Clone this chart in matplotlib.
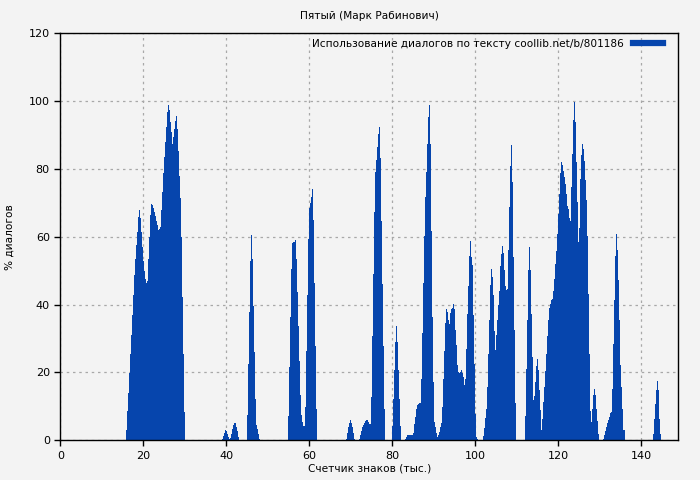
import numpy as np
import matplotlib
matplotlib.use("Agg")
import matplotlib.pyplot as plt
from matplotlib.lines import Line2D

# one bar per ~240 characters, heights in % of dialogue
STEP = 0.241

starts = [15.83, 38.96, 44.92, 54.87, 68.84, 72.0, 80.0, 83.06, 101.86, 111.98, 130.8, 142.8]

peak_20 = [3, 8.5, 14, 19.8, 25.3, 31, 36.9, 42.7, 48.6, 53.6, 57.7, 61.4, 65.7, 67.8, 65.4,
           61.4, 57, 53, 49.8, 47.7, 46.4, 47, 53.4, 60, 66.3, 69.8, 69.3, 68.5, 67.3, 66,
           64.6, 63.4, 62, 62.2, 62.8, 67.8, 73.2, 78.7, 83.5, 88, 92.4, 96.8, 99, 97.3, 93.8,
           90.9, 87.5, 89.4, 91.9, 94.1, 95.5, 91.9, 85.2, 78, 71.3, 60, 42.4, 25.3, 8.3]
peak_40 = [0.4, 1.3, 2.3, 3.0, 2.8, 2.0, 1.0, 0.3, 0.6, 2.0, 3.3, 4.4, 5.2, 5.0, 4.0, 2.6, 1.0]
peak_46 = [7.4, 22.4, 37.9, 52.9, 60.4, 53.4, 39.5, 26, 12.1, 4.4, 3.2, 1.8, 0.5]
peak_58 = [7.1, 21.6, 36.4, 50.6, 58.2, 58.5, 58.6, 59.0, 53.6, 43.8, 33.6, 23.4, 13.3, 7.4,
           5.4, 4.1, 4.1, 9.8, 26.2, 42.7, 59.3, 68.5, 70.1, 71.7, 74.2, 64.9, 46.3, 27.7, 9.1]
peak_70 = [0.5, 2.2, 3.9, 5.2, 6.1, 5.2, 3.9, 2.2, 0.5]
peak_76 = [0.5, 1.5, 2.8, 3.8, 4.4, 5.1, 5.6, 6.1, 6.1, 5.4, 4.9, 4.7, 12.9, 30.9, 49.1, 67.3,
           79.1, 82.5, 86.4, 90.4, 92.5, 83.1, 64.6, 46.2, 27.7, 9.1]
peak_81 = [4.1, 12.3, 20.8, 29.0, 33.6, 29.0, 20.8, 12.3, 4.1]
peak_89 = [0.5, 1.0, 1.5, 1.5, 1.5, 1.5, 1.5, 1.5, 2.2, 4.7, 6.9, 9.2, 10.5, 10.7, 10.9, 11.1,
           18.0, 31.7, 46.4, 60.2, 71.6, 79.1, 87.5, 95.2, 99.0, 87.3, 61.8, 36.4, 17.2, 5.4,
           3.8, 2.2, 0.9,
           1.5, 2.5, 3.8, 5.1, 9.8, 18.0, 26.3, 34.6, 38.8, 37.9, 35.6, 34.4, 37.4, 38.8, 39.1,
           40.3, 38.8, 32.4, 28.0, 22.1, 20.1, 19.8, 20.1, 20.6, 19.7, 18.7, 16.3, 18.2, 27.0,
           37.2, 45.4, 54.4, 58.8, 54.1, 51.6, 36.9, 22.6, 7.7, 0.9, 0.5]
peak_105 = [1.2, 3.7, 6.7, 9.3, 15.7, 25.5, 35.6, 45.7, 50.6, 48.2, 42.7, 32.2, 26.7, 31.0,
            35.4, 39.8, 43.9, 51.3, 55.0, 57.2, 55.2, 50.1, 45.4, 44.2, 44.7, 56.2, 68.8,
            80.8, 87.0, 76.2, 54.0, 32.6, 11.0]
peak_122 = [7.1, 21.1, 35.4, 50.1, 57.0, 50.3, 37.3, 24.6, 11.8, 13.0, 17.2, 21.8, 24.1, 20.8,
            14.9, 8.8, 2.9,
            6.4, 11.3, 15.7, 20.3, 25.3, 30.7, 35.6, 39.1, 40.3, 41.3, 41.8, 44.0, 47.7, 52.1,
            55.8, 60.7, 66.6, 72.7, 78.8, 82.0, 81.1, 79.4, 77.6, 75.7, 72.7, 69.0, 68.3, 65.4,
            64.7, 74.7, 84.5, 94.5, 99.7, 93.8, 82.0, 70.3, 58.5, 62.7, 76.9, 84.0, 87.5, 86.0,
            82.3, 76.7, 71.0, 60.1, 43.0,
            25.5, 8.7, 5.4, 9.3, 13.3, 15.2, 13.3, 9.3, 5.6, 1.8]
peak_134 = [0.5, 1.5, 2.8, 3.9, 5.1, 6.1, 6.9, 8.1, 8.4, 15.2, 28.3, 41.3, 54.2, 60.9, 56.2,
            47.4, 35.6, 22.1, 15.7, 9.3, 2.9, 2.9]
peak_144 = [2.0, 6.4, 10.6, 14.9, 17.4, 14.9, 6.4, 2.0]

peaks = [peak_20, peak_40, peak_46, peak_58, peak_70, peak_76, peak_81, peak_89,
         peak_105, peak_122, peak_134, peak_144]

TITLE = "Пятый (Марк Рабинович)"
LEGEND = "Использование диалогов по тексту coollib.net/b/801186"
XLABEL = "Счетчик знаков (тыс.)"
YLABEL = "% диалогов"
BG = "#f3f3f3"
BLUE = "#0645ad"
FS = 7.6

fig = plt.figure(figsize=(7, 4.8), dpi=100, facecolor=BG)
ax = fig.add_axes([0.0861, 0.0827, 0.8825, 0.8479], facecolor=BG)

for x0, vals in zip(starts, peaks):
    edges = x0 + STEP * np.arange(len(vals) + 1)
    ax.stairs(vals, edges, fill=True, color=BLUE, linewidth=0, antialiased=False, zorder=2)

ax.set_xlim(0, 148.8)
ax.set_ylim(0, 120)
ax.set_xticks(np.arange(0, 141, 20))
ax.set_yticks(np.arange(0, 121, 20))
ax.tick_params(direction="out", length=4, width=1, labelsize=FS + 0.4, colors="black")
ax.set_axisbelow(True)
ax.grid(True, color="#a8a8a8", linestyle=(0, (2, 3)), linewidth=0.9)
for s in ax.spines.values():
    s.set_color("black")
    s.set_linewidth(1)

ax.set_title(TITLE, fontsize=FS, pad=10)
ax.set_xlabel(XLABEL, fontsize=FS, labelpad=2)
ax.set_ylabel(YLABEL, fontsize=FS, labelpad=10)

handle = Line2D([], [], color=BLUE, linewidth=4.5)
leg = ax.legend([handle], [LEGEND], loc="upper right", frameon=False, fontsize=FS,
                handlelength=2.9, handletextpad=0.8, markerfirst=False,
                borderaxespad=1.0, bbox_to_anchor=(1, 1.022))

fig.savefig("out.png", dpi=100, facecolor=BG)
